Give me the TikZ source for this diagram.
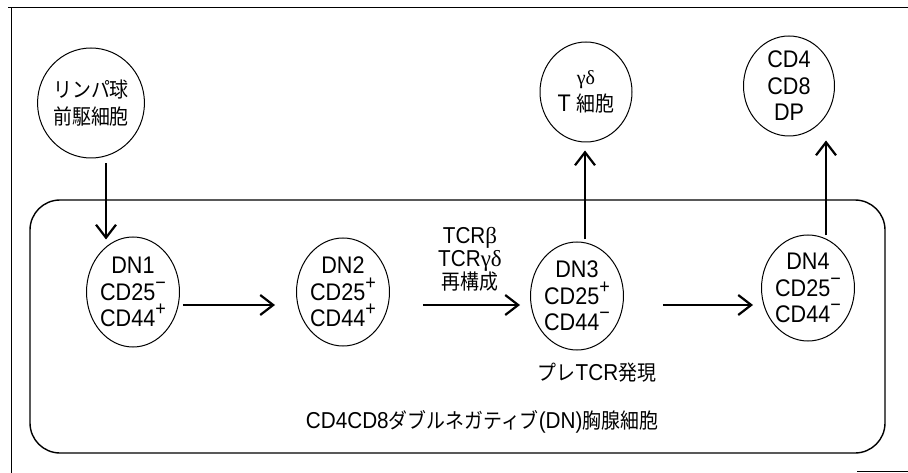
\documentclass[tikz,border=0pt]{standalone}
\usepackage{fontspec}
\setmainfont{Liberation Sans}[FakeStretch=0.9]
\newfontfamily\jpf{Noto Sans CJK JP}[FakeStretch=0.9]
\newfontfamily\grf{Liberation Serif}
\usetikzlibrary{shapes.geometric,arrows.meta,calc}
\newcommand\spx[1]{\raisebox{0.45em}{\fontsize{20}{20}\selectfont #1}}
\newcommand\jt[1]{{\jpf\fontsize{21}{25}\selectfont #1}}
\begin{document}
\begin{tikzpicture}[x=1pt,y=-1pt,
  cell/.style={draw,line width=1pt,ellipse,inner sep=0pt,align=center,
    font=\fontsize{24}{26.5}\selectfont},
  arr/.style={line width=2.3pt,-{Straight Barb[length=13pt,width=20pt,line width=2.2pt]}},
  lbl/.style={align=center,inner sep=0pt}]
\useasboundingbox (0,0) rectangle (908,473);
% scanned frame
\draw[line width=1pt] (8,8) -- (908,8);
\draw[line width=1pt] (11,8) -- (11,473);
\draw[line width=1pt] (857,471) -- (908,471);
% thymus box
\node[draw,line width=1.4pt,rounded corners=30pt,minimum width=855pt,minimum height=253pt,inner sep=0pt]
  (box) at (457.5,326.5) {};
% cells
\node[cell,minimum width=88pt,minimum height=110pt] (lymph) at (91,103)
  {\jt{リンパ球}\\\jt{前駆細胞}};
\node[cell,minimum width=92pt,minimum height=100pt] (gd) at (586,92)
  {{\grf\fontsize{20}{20}\selectfont γδ}\\T \jt{細胞}};
\node[cell,minimum width=91pt,minimum height=100pt] (dp) at (789,86) {CD4\\CD8\\DP};
\node[cell,minimum width=88pt,minimum height=110pt] (dn1) at (133,292) {DN1\\CD25\spx{−}\\CD44\spx{+}};
\node[cell,minimum width=88pt,minimum height=108pt] (dn2) at (343,292) {DN2\\CD25\spx{+}\\CD44\spx{+}};
\node[cell,minimum width=86pt,minimum height=108pt] (dn3) at (577,296) {DN3\\CD25\spx{+}\\CD44\spx{−}};
\node[cell,minimum width=86pt,minimum height=106pt] (dn4) at (808,288) {DN4\\CD25\spx{−}\\CD44\spx{−}};
% labels
\node[lbl,font=\fontsize{23}{23}\selectfont] (tcr) at (470,259)
  {TCR{\grf β}\\TCR{\grf γδ}\\\jt{再構成}};
\node[lbl,font=\fontsize{23}{23}\selectfont] (pre) at (597,373)
  {\jt{プレ}TCR\jt{発現}};
\node[lbl,font=\fontsize{23}{23}\selectfont] (dnlab) at (482,422)
  {CD4CD8\jt{ダブルネガティブ}(DN)\jt{胸腺細胞}};
% arrows
\draw[arr] ($(lymph.south)+(15,5)$) -- ($(dn1.north)+(-27,3)$);
\draw[arr] ($(dn1.east)+(3,13)$) -- ($(dn2.west)+(-21,13)$);
\draw[arr] ($(dn2.east)+(33,13)$) -- ($(dn3.west)+(-10,9)$);
\draw[arr] ($(dn3.east)+(39,9)$) -- ($(dn4.west)+(-8,17)$);
\draw[arr] ($(dn3.north)+(8,-2)$) -- ($(gd.south)+(-1,8)$);
\draw[arr] ($(dn4.north)+(18,1)$) -- ($(dp.south)+(37,4)$);
\end{tikzpicture}
\end{document}
